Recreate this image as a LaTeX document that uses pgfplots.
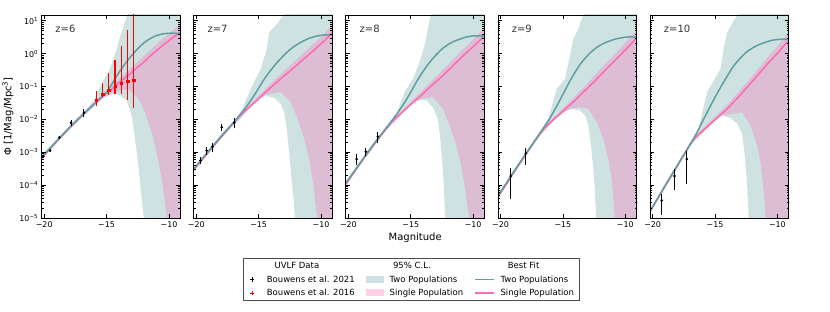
\documentclass[border=0pt]{standalone}
\usepackage{fontspec}
\setmainfont{DejaVu Sans}
\usepackage{pgfplots}
\pgfplotsset{compat=1.18}
\definecolor{cadet}{RGB}{95,158,160}
\definecolor{hotp}{RGB}{255,105,180}
\pgfplotsset{
  scale only axis, width=138.5pt, height=203pt,
  xmin=-20.2, xmax=-9.1, ymin=1e-5, ymax=15,
  xtick={-20,-15,-10}, xticklabels={−20,−15,−10},
  ytick={1e-5,1e-4,1e-3,1e-2,1e-1,1,10},
  minor ytick={2e-5,3e-5,4e-5,5e-5,6e-5,7e-5,8e-5,9e-5,2e-4,3e-4,4e-4,5e-4,6e-4,7e-4,8e-4,9e-4,2e-3,3e-3,4e-3,5e-3,6e-3,7e-3,8e-3,9e-3,0.02,0.03,0.04,0.05,0.06,0.07,0.08,0.09,0.2,0.3,0.4,0.5,0.6,0.7,0.8,0.9,2,3,4,5,6,7,8,9},
  yticklabels={},
  tick align=inside, major tick length=4pt, minor tick length=2pt,
  tick style={black, line width=0.6pt},
  axis line style={line width=0.9pt},
  ticklabel style={font=\fontsize{7.9}{9}\selectfont},
  axis on top,
}
\pgfplotsset{
 tealband/.style={fill=cadet, fill opacity=0.3, draw=none, forget plot},
 pinkband/.style={fill=hotp, fill opacity=0.3, draw=none, forget plot},
 tealline/.style={cadet, line width=1.5pt, smooth, no marks, forget plot},
 pinkline/.style={hotp, line width=1.5pt, smooth, no marks, forget plot},
 rbar/.style={draw=red, line width=1.5pt, no marks, forget plot},
 legmarkk/.style={legend image code/.code={\path[draw=none,fill=none] (-2pt,0pt) -- (12pt,0pt); \draw[draw=black, line width=0.6pt, mark=+, mark size=2.3pt, mark options={draw=black, line width=0.6pt}] plot coordinates {(3pt,0pt)};}},
 legmarkr/.style={legend image code/.code={\path[draw=none,fill=none] (-2pt,0pt) -- (12pt,0pt); \draw[draw=red, line width=0.6pt, mark=+, mark size=2.3pt, mark options={draw=red, line width=0.6pt}] plot coordinates {(3pt,0pt)};}},
 legareat/.style={legend image code/.code={\fill[fill=cadet, fill opacity=0.3, draw=none] (0pt,-3.5pt) rectangle (18pt,3.5pt);}},
 legareap/.style={legend image code/.code={\fill[fill=hotp, fill opacity=0.3, draw=none] (0pt,-3.5pt) rectangle (18pt,3.5pt);}},
 leglinet/.style={legend image code/.code={\draw[draw=cadet, line width=1.5pt] (0pt,0pt) -- (19pt,0pt);}},
 leglinep/.style={legend image code/.code={\draw[draw=hotp, line width=1.5pt] (0pt,0pt) -- (19pt,0pt);}},
}
\begin{document}
\begin{tikzpicture}
\useasboundingbox (0pt,0pt) rectangle (830pt,312pt);
% ---------------- z=6
\begin{axis}[ymode=log, at={(41.7pt,94pt)}, anchor=south west,
  yticklabels={10\textsuperscript{−5},10\textsuperscript{−4},10\textsuperscript{−3},10\textsuperscript{−2},10\textsuperscript{−1},10\textsuperscript{0},10\textsuperscript{1}},
  ylabel={Φ [1/Mag/Mpc\textsuperscript{3}]},
  every axis y label/.style={at={(axis description cs:-0.2433,0.5)}, rotate=90, anchor=center, font=\fontsize{10}{12}\selectfont}]
\addplot[tealband] coordinates {
(-20.2,8.13e-4) (-19,2.45e-3) (-18,6.17e-3) (-17,1.45e-2) (-16.5,2.29e-2) (-16,3.98e-2) (-15.8,6.03e-2) (-15.26,0.151) (-14.73,0.347) (-14.19,1.41) (-13.93,3.16) (-13.58,8.13) (-13.26,18.2) (-12.9,63) (-9.1,63)
(-9.1,1e-7) (-11.8,1e-7) (-11.98,7.6e-6) (-12.19,3.89e-5) (-12.46,3.98e-4) (-12.72,2.57e-3) (-12.99,1.32e-2) (-13.39,3.80e-2) (-13.9,5.25e-2) (-14.33,6.03e-2) (-14.6,5.75e-2) (-15.13,4.79e-2) (-15.66,3.39e-2) (-16.2,2.09e-2) (-16.73,1.38e-2) (-17,1.12e-2) (-18,4.79e-3) (-19,1.91e-3) (-20.2,6.17e-4)
};
\addplot[pinkband] coordinates {
(-20.2,7.41e-4) (-19,2.40e-3) (-18,6.03e-3) (-17,1.45e-2) (-16,3.31e-2) (-15,7.41e-2) (-14,0.170) (-13,0.380) (-12,0.851) (-11,1.95) (-10,4.17) (-9.1,7.59)
(-9.1,1e-7) (-10.0,1e-7) (-10.13,7.6e-6) (-10.32,3.09e-5) (-10.59,1.58e-4) (-10.99,1.0e-3) (-11.39,4.07e-3) (-11.92,1.66e-2) (-12.46,4.27e-2) (-13.26,8.51e-2) (-14.0,7.59e-2) (-14.5,6.61e-2) (-15.13,5.01e-2) (-15.66,3.55e-2) (-16.2,2.19e-2) (-17,1.15e-2) (-18,4.79e-3) (-19,1.91e-3) (-20.2,5.89e-4)
};
\addplot[pinkline] coordinates {
(-20.2,6.61e-4) (-19.5,1.32e-3) (-19,2.14e-3) (-18,5.37e-3) (-17,1.29e-2) (-16.5,1.95e-2) (-16,2.88e-2) (-15.5,4.27e-2) (-15,6.17e-2) (-14.5,8.91e-2) (-14,0.129) (-13.5,0.186) (-13,0.269) (-12.5,0.389) (-12,0.562) (-11.5,0.851) (-11,1.23) (-10.5,1.78) (-10,2.51) (-9.5,3.47) (-9.1,4.37)};
\addplot[tealline] coordinates {
(-20.2,7.24e-4) (-19.5,1.38e-3) (-19,2.19e-3) (-18,5.50e-3) (-17,1.29e-2) (-16.5,1.95e-2) (-16,2.95e-2) (-15.5,4.47e-2) (-15,6.76e-2) (-14.5,0.132) (-14,0.269) (-13.5,0.501) (-13,0.871) (-12.5,1.41) (-12,2.14) (-11.5,2.88) (-11,3.55) (-10.5,3.98) (-10,4.17) (-9.5,4.17) (-9.1,4.07)};
\addplot[only marks, mark=*, mark size=1.1pt, black, forget plot,
  error bars/.cd, y dir=both, y explicit, error mark=none, error bar style={line width=1pt, black}] coordinates {
(-20.07,7.4e-4) += (0,0.8e-4) -= (0,0.8e-4)
(-19.53,1.12e-3) += (0,1.2e-4) -= (0,1.2e-4)
(-18.79,2.8e-3) += (0,3e-4) -= (0,3e-4)
(-17.85,7.9e-3) += (0,1.6e-3) -= (0,1.6e-3)
(-16.81,1.6e-2) += (0,4.4e-3) -= (0,4.5e-3)};
\addplot[rbar] coordinates {(-15.82,0.026) (-15.82,0.074)};
\addplot[rbar] coordinates {(-15.31,0.049) (-15.31,0.13)};
\addplot[rbar] coordinates {(-14.83,0.055) (-14.83,0.26)};
\addplot[rbar] coordinates {(-14.33,0.059) (-14.33,0.65)};
\addplot[rbar] coordinates {(-13.82,0.059) (-13.82,1.7)};
\addplot[rbar] coordinates {(-13.31,0.039) (-13.31,5.2)};
\addplot[rbar] coordinates {(-12.83,0.023) (-12.83,63)};
\addplot[only marks, mark=square*, mark size=1.1pt, red, forget plot] coordinates {
(-15.82,0.039) (-15.31,0.057) (-14.83,0.079) (-14.33,0.105) (-13.82,0.126) (-13.31,0.145) (-12.83,0.158)};
\node[anchor=west, font=\fontsize{10}{12}\selectfont, text=black!80] at (rel axis cs:0.074,0.934) {z=6};
\end{axis}
% ---------------- z=7
\begin{axis}[ymode=log, at={(193.8pt,94pt)}, anchor=south west]
\addplot[tealband] coordinates {
(-20.2,3.55e-4) (-19,1.23e-3) (-18,3.47e-3) (-17,9.12e-3) (-16.43,1.66e-2) (-15.63,8.51e-2) (-14.83,0.347) (-14.35,1.41) (-14.16,4.47) (-13.63,7.24) (-13.23,11.5) (-12.83,18.2) (-12.5,63) (-9.1,63)
(-9.1,1e-7) (-11.9,1e-7) (-12.08,7.6e-6) (-12.21,3.89e-5) (-12.37,1.58e-4) (-12.56,1.02e-3) (-12.75,5.13e-3) (-12.96,1.66e-2) (-13.23,2.95e-2) (-13.76,4.47e-2) (-14.43,5.37e-2) (-14.83,4.47e-2) (-15.63,2.34e-2) (-16.7,8.32e-3) (-17,6.92e-3) (-18,2.57e-3) (-19,9.33e-4) (-20.2,2.63e-4)
};
\addplot[pinkband] coordinates {
(-20.2,3.31e-4) (-19,1.17e-3) (-18,3.31e-3) (-17,8.91e-3) (-16,2.24e-2) (-15,5.13e-2) (-14,0.126) (-13,0.288) (-12,0.646) (-11,1.45) (-10,3.31) (-9.1,7.24)
(-9.1,1e-7) (-10.1,1e-7) (-10.29,7.6e-6) (-10.61,9.77e-5) (-10.96,6.31e-4) (-11.36,2.57e-3) (-11.89,1.05e-2) (-12.43,3.39e-2) (-13.23,6.76e-2) (-14.03,6.03e-2) (-14.5,5.37e-2) (-15,4.17e-2) (-15.63,2.45e-2) (-16,1.74e-2) (-17,7.08e-3) (-18,2.63e-3) (-19,9.33e-4) (-20.2,2.63e-4)
};
\addplot[pinkline] coordinates {
(-20.2,2.95e-4) (-19.5,6.17e-4) (-19,1.05e-3) (-18,2.95e-3) (-17,7.94e-3) (-16.5,1.29e-2) (-16,1.95e-2) (-15.5,2.88e-2) (-15,4.27e-2) (-14.5,6.46e-2) (-14,9.55e-2) (-13.5,0.141) (-13,0.204) (-12.5,0.295) (-12,0.427) (-11.5,0.631) (-11,0.912) (-10.5,1.35) (-10,2.00) (-9.5,3.02) (-9.1,4.27)};
\addplot[tealline] coordinates {
(-20.2,3.16e-4) (-19.5,6.61e-4) (-19,1.10e-3) (-18,3.09e-3) (-17,8.13e-3) (-16.5,1.38e-2) (-16,2.40e-2) (-15.5,4.47e-2) (-15,8.91e-2) (-14.5,0.182) (-14,0.324) (-13.5,0.550) (-13,0.871) (-12.5,1.32) (-12,1.82) (-11.5,2.34) (-11,2.88) (-10.5,3.31) (-10,3.63) (-9.5,3.72) (-9.1,3.72)};
\addplot[only marks, mark=*, mark size=1.1pt, black, forget plot,
  error bars/.cd, y dir=both, y explicit, error mark=none, error bar style={line width=1pt, black}] coordinates {
(-19.66,5.6e-4) += (0,1.5e-4) -= (0,1.1e-4)
(-19.18,1.12e-3) += (0,2.9e-4) -= (0,2.9e-4)
(-18.70,1.48e-3) += (0,4.2e-4) -= (0,4.3e-4)
(-17.96,5.8e-3) += (0,1.4e-3) -= (0,1.5e-3)
(-16.96,7.9e-3) += (0,2.8e-3) -= (0,2.5e-3)};
\node[anchor=west, font=\fontsize{10}{12}\selectfont, text=black!80] at (rel axis cs:0.074,0.934) {z=7};
\end{axis}
% ---------------- z=8
\begin{axis}[ymode=log, at={(345.9pt,94pt)}, anchor=south west,
  xlabel={Magnitude},
  every axis x label/.style={at={(axis description cs:0.5,0)}, anchor=base, yshift=-22.7pt, font=\fontsize{10}{12}\selectfont},
  legend style={at={(0.4715,-0.1985)}, anchor=north, draw=black!70, line width=0.8pt,
    font=\fontsize{8.5}{10}\selectfont, inner xsep=4.1pt, inner ysep=2.3pt,
    nodes={inner sep=1.2pt},
    /tikz/every odd column/.style={column sep=4.5pt},
    /tikz/every even column/.style={column sep=10pt},
    row sep=3pt},
  legend columns=3, legend cell align=left]
\addplot[tealband] coordinates {
(-20.2,1.32e-4) (-19,5.75e-4) (-18,1.91e-3) (-17,5.89e-3) (-16.7,8.32e-3) (-16.17,1.38e-2) (-15.5,6.76e-2) (-14.83,0.170) (-14.30,0.550) (-13.90,1.78) (-13.63,5.62) (-13.44,12.9) (-13.28,18.2) (-13.0,63) (-9.1,63)
(-9.1,1e-7) (-12.1,1e-7) (-12.24,7.6e-6) (-12.35,9.77e-5) (-12.48,5.01e-4) (-12.64,2.57e-3) (-12.83,1.05e-2) (-13.23,2.34e-2) (-13.76,3.80e-2) (-14.30,3.89e-2) (-14.83,3.16e-2) (-15.63,1.58e-2) (-16.7,5.89e-3) (-17,4.47e-3) (-18,1.41e-3) (-19,4.37e-4) (-20.2,1.0e-4)
};
\addplot[pinkband] coordinates {
(-20.2,1.20e-4) (-19,5.50e-4) (-18,1.82e-3) (-17,5.75e-3) (-16,1.48e-2) (-15,3.39e-2) (-14,8.13e-2) (-13,0.195) (-12,0.468) (-11,1.15) (-10,2.69) (-9.1,6.03)
(-9.1,1e-7) (-10.1,1e-7) (-10.29,7.6e-6) (-10.61,6.17e-5) (-10.96,3.98e-4) (-11.36,1.62e-3) (-11.89,6.61e-3) (-12.43,2.09e-2) (-13.23,4.79e-2) (-14.03,4.27e-2) (-14.5,3.80e-2) (-15,2.63e-2) (-15.63,1.74e-2) (-16,1.12e-2) (-17,4.57e-3) (-18,1.45e-3) (-19,4.37e-4) (-20.2,9.55e-5)
};
\addplot[pinkline] coordinates {
(-20.2,1.07e-4) (-19.5,2.63e-4) (-19,4.90e-4) (-18,1.62e-3) (-17,5.13e-3) (-16.5,8.71e-3) (-16,1.29e-2) (-15.5,1.91e-2) (-15,2.82e-2) (-14.5,4.17e-2) (-14,6.17e-2) (-13.5,9.33e-2) (-13,0.138) (-12.5,0.204) (-12,0.309) (-11.5,0.479) (-11,0.724) (-10.5,1.10) (-10,1.62) (-9.5,2.45) (-9.1,3.47)};
\addplot[tealline] coordinates {
(-20.2,1.17e-4) (-19.5,2.75e-4) (-19,5.13e-4) (-18,1.70e-3) (-17,5.25e-3) (-16.5,9.33e-3) (-16,1.70e-2) (-15.5,3.24e-2) (-15,6.76e-2) (-14.5,0.148) (-14,0.295) (-13.5,0.537) (-13,0.891) (-12.5,1.38) (-12,1.91) (-11.5,2.40) (-11,2.82) (-10.5,3.24) (-10,3.47) (-9.5,3.47) (-9.1,3.39)};
\addplot[only marks, mark=*, mark size=1.1pt, black, forget plot,
  error bars/.cd, y dir=both, y explicit, error mark=none, error bar style={line width=1pt, black}] coordinates {
(-19.34,6.2e-4) += (0,2.7e-4) -= (0,2.0e-4)
(-18.6,1.05e-3) += (0,2.7e-4) -= (0,2.7e-4)
(-17.64,3.0e-3) += (0,1.27e-3) -= (0,1.1e-3)};
\node[anchor=west, font=\fontsize{10}{12}\selectfont, text=black!80] at (rel axis cs:0.074,0.934) {z=8};
\addlegendimage{empty legend}\addlegendentry{\hspace{7.7pt}UVLF Data}
\addlegendimage{empty legend}\addlegendentry{\hspace{3.4pt}95\% C.L.}
\addlegendimage{empty legend}\addlegendentry{\hspace{7.3pt}Best Fit}
\addlegendimage{legmarkk}\addlegendentry{Bouwens et al. 2021}
\addlegendimage{legareat}\addlegendentry{Two Populations}
\addlegendimage{leglinet}\addlegendentry{Two Populations}
\addlegendimage{legmarkr}\addlegendentry{Bouwens et al. 2016}
\addlegendimage{legareap}\addlegendentry{Single Population}
\addlegendimage{leglinep}\addlegendentry{Single Population}
\end{axis}
% ---------------- z=9
\begin{axis}[ymode=log, at={(498.0pt,94pt)}, anchor=south west]
\addplot[tealband] coordinates {
(-20.2,5.37e-5) (-19,2.63e-4) (-18,9.77e-4) (-17,3.47e-3) (-16.5,6.61e-3) (-16.17,1.05e-2) (-15.5,8.51e-2) (-14.83,0.170) (-14.43,0.871) (-14.16,2.82) (-13.76,5.62) (-13.5,11.5) (-13.23,18.2) (-13.0,63) (-9.1,63)
(-9.1,1e-7) (-12.2,1e-7) (-12.32,7.6e-6) (-12.43,6.17e-5) (-12.56,3.16e-4) (-12.75,1.62e-3) (-12.96,6.61e-3) (-13.23,1.32e-2) (-13.63,1.86e-2) (-14.30,2.09e-2) (-14.83,1.74e-2) (-15.63,1.0e-2) (-16.7,3.63e-3) (-17,2.57e-3) (-18,7.41e-4) (-19,2.00e-4) (-20.2,3.98e-5)
};
\addplot[pinkband] coordinates {
(-20.2,4.90e-5) (-19,2.51e-4) (-18,9.33e-4) (-17,3.39e-3) (-16,9.12e-3) (-15,2.14e-2) (-14,5.13e-2) (-13,0.129) (-12,0.331) (-11,0.851) (-10,2.14) (-9.1,5.25)
(-9.1,1e-7) (-10.7,1e-7) (-10.82,7.6e-6) (-10.93,3.09e-5) (-11.09,1.58e-4) (-11.36,6.31e-4) (-11.76,2.57e-3) (-12.29,8.32e-3) (-12.96,2.09e-2) (-13.76,2.40e-2) (-14.5,2.00e-2) (-15,1.58e-2) (-15.63,1.02e-2) (-16,7.08e-3) (-17,2.69e-3) (-18,7.41e-4) (-19,2.00e-4) (-20.2,3.89e-5)
};
\addplot[pinkline] coordinates {
(-20.2,4.37e-5) (-19.5,1.12e-4) (-19,2.24e-4) (-18,8.32e-4) (-17,3.02e-3) (-16.5,5.37e-3) (-16,8.13e-3) (-15.5,1.20e-2) (-15,1.78e-2) (-14.5,2.63e-2) (-14,3.89e-2) (-13.5,6.03e-2) (-13,9.12e-2) (-12.5,0.141) (-12,0.219) (-11.5,0.347) (-11,0.537) (-10.5,0.832) (-10,1.29) (-9.5,2.04) (-9.1,3.02)};
\addplot[tealline] coordinates {
(-20.2,4.79e-5) (-19.5,1.20e-4) (-19,2.34e-4) (-18,8.71e-4) (-17,3.09e-3) (-16.5,5.89e-3) (-16,1.15e-2) (-15.5,2.51e-2) (-15,5.75e-2) (-14.5,0.132) (-14,0.282) (-13.5,0.537) (-13,0.891) (-12.5,1.35) (-12,1.82) (-11.5,2.24) (-11,2.63) (-10.5,2.95) (-10,3.16) (-9.5,3.24) (-9.1,3.16)};
\addplot[only marks, mark=*, mark size=1.1pt, black, forget plot,
  error bars/.cd, y dir=both, y explicit, error mark=none, error bar style={line width=1pt, black}] coordinates {
(-19.18,1.9e-4) += (0,1.4e-4) -= (0,1.53e-4)
(-17.98,9.3e-4) += (0,4.5e-4) -= (0,5.1e-4)};
\node[anchor=west, font=\fontsize{10}{12}\selectfont, text=black!80] at (rel axis cs:0.074,0.934) {z=9};
\end{axis}
% ---------------- z=10
\begin{axis}[ymode=log, at={(650.1pt,94pt)}, anchor=south west]
\addplot[tealband] coordinates {
(-20.2,1.78e-5) (-19,1.07e-4) (-18,4.57e-4) (-17,1.91e-3) (-16.3,5.62e-3) (-15.63,6.76e-2) (-15.1,0.151) (-14.56,0.347) (-14.3,1.41) (-14.03,4.47) (-13.63,8.13) (-13.23,14.5) (-12.96,18.2) (-12.7,63) (-9.1,63)
(-9.1,1e-7) (-12.2,1e-7) (-12.29,7.6e-6) (-12.37,3.89e-5) (-12.48,2.0e-4) (-12.64,1.02e-3) (-12.83,3.63e-3) (-13.23,7.41e-3) (-13.76,1.10e-2) (-14.43,1.32e-2) (-14.83,1.07e-2) (-15.63,5.25e-3) (-16.7,2.04e-3) (-17,1.45e-3) (-18,3.47e-4) (-19,8.13e-5) (-20.2,1.38e-5)
};
\addplot[pinkband] coordinates {
(-20.2,1.78e-5) (-19,1.05e-4) (-18,4.47e-4) (-17,1.95e-3) (-16,5.13e-3) (-15,1.17e-2) (-14,2.82e-2) (-13,7.59e-2) (-12,0.209) (-11,0.603) (-10,1.66) (-9.1,4.57)
(-9.1,1e-7) (-10.8,1e-7) (-10.93,7.6e-6) (-11.01,2.45e-5) (-11.14,9.77e-5) (-11.36,5.01e-4) (-11.63,1.62e-3) (-12.16,6.61e-3) (-12.83,1.66e-2) (-13.49,1.48e-2) (-14.43,1.32e-2) (-15,8.91e-3) (-15.63,5.50e-3) (-16,3.98e-3) (-16.7,2.19e-3) (-17,1.55e-3) (-18,3.55e-4) (-19,8.32e-5) (-20.2,1.41e-5)
};
\addplot[pinkline] coordinates {
(-20.2,1.58e-5) (-19.5,4.47e-5) (-19,9.33e-5) (-18,3.98e-4) (-17,1.74e-3) (-16.5,3.02e-3) (-16,4.47e-3) (-15.5,6.61e-3) (-15,9.77e-3) (-14.5,1.45e-2) (-14,2.14e-2) (-13.5,3.39e-2) (-13,5.37e-2) (-12.5,8.91e-2) (-12,0.145) (-11.5,0.240) (-11,0.398) (-10.5,0.646) (-10,1.02) (-9.5,1.70) (-9.1,2.51)};
\addplot[tealline] coordinates {
(-20.2,1.66e-5) (-19.5,4.57e-5) (-19,9.55e-5) (-18,4.07e-4) (-17,1.70e-3) (-16.5,3.63e-3) (-16,8.71e-3) (-15.5,2.04e-2) (-15,4.68e-2) (-14.5,0.102) (-14,0.214) (-13.5,0.427) (-13,0.708) (-12.5,1.10) (-12,1.48) (-11.5,1.86) (-11,2.19) (-10.5,2.51) (-10,2.69) (-9.5,2.75) (-9.1,2.69)};
\addplot[only marks, mark=*, mark size=1.1pt, black, forget plot,
  error bars/.cd, y dir=both, y explicit, error mark=none, error bar style={line width=1pt, black}] coordinates {
(-19.27,3.4e-5) += (0,2.0e-5) -= (0,2.2e-5)
(-18.25,1.9e-4) += (0,1.2e-4) -= (0,1.2e-4)
(-17.26,6.2e-4) += (0,5.0e-4) -= (0,5.1e-4)};
\node[anchor=west, font=\fontsize{10}{12}\selectfont, text=black!80] at (rel axis cs:0.074,0.934) {z=10};
\end{axis}
\end{tikzpicture}
\end{document}
